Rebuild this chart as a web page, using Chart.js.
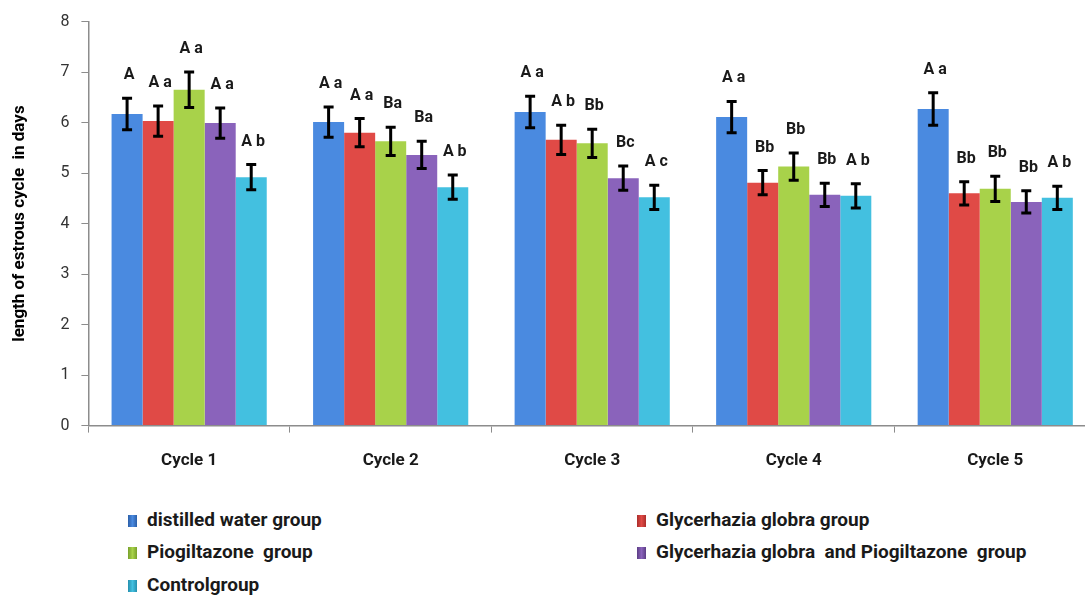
<!DOCTYPE html>
<html lang="en">
<head>
  <meta charset="UTF-8">
  <title>Length of estrous cycle</title>
  <script src="https://cdn.jsdelivr.net/npm/chart.js"></script>
  <style>
    html, body { margin: 0; padding: 0; background: #fff; overflow: hidden; }
    #wrap { position: relative; width: 1085px; height: 596px; overflow: hidden; }
    #chart { position: absolute; left: 0; top: 0; }
    .leg { position: absolute; font-family: Roboto, sans-serif;
           font-weight: bold; font-size: 19px; color: #1a1a1a; line-height: 22px; white-space: pre; }
    .leg span.sw { display: inline-block; width: 9px; height: 12px; margin-right: 10px; vertical-align: -1px; }
  </style>
</head>
<body>
  <div id="wrap">
    <canvas id="chart" width="1100" height="500"></canvas>
    <div id="legend"></div>
  </div>
  <script>
    const categories = ['Cycle 1', 'Cycle 2', 'Cycle 3', 'Cycle 4', 'Cycle 5'];
    const groupNames = ['distilled water group', 'Glycerhazia globra group', 'Piogiltazone  group',
                        'Glycerhazia globra  and Piogiltazone  group', 'Control group'];

    const distilledWater = [6.17, 6.01, 6.21, 6.11, 6.27];
    const glycerhazia    = [6.03, 5.80, 5.66, 4.81, 4.60];
    const piogiltazone   = [6.65, 5.63, 5.59, 5.13, 4.69];
    const combined       = [5.99, 5.36, 4.90, 4.57, 4.43];
    const control        = [4.92, 4.72, 4.52, 4.55, 4.51];

    const errDistilled   = [0.31, 0.30, 0.31, 0.31, 0.32];
    const errGlycerhazia = [0.30, 0.28, 0.29, 0.24, 0.23];
    const errPiogl       = [0.35, 0.28, 0.28, 0.27, 0.25];
    const errCombined    = [0.30, 0.27, 0.24, 0.23, 0.22];
    const errControl     = [0.25, 0.24, 0.24, 0.24, 0.23];

    const lblDistilled   = ['A', 'A a', 'A a', 'A a', 'A a'];
    const lblGlycerhazia = ['A a', 'A a', 'A b', 'Bb', 'Bb'];
    const lblPiogl       = ['A a', 'Ba', 'Bb', 'Bb', 'Bb'];
    const lblCombined    = ['A a', 'Ba', 'Bc', 'Bb', 'Bb'];
    const lblControl     = ['A b', 'A b', 'A c', 'A b', 'A b'];

    const yTicks = [0, 1, 2, 3, 4, 5, 6, 7, 8];

    // [edge, middle] colours for the shaded bars
    const palette = [
      ['#2c5fa8', '#4a8ae0'],
      ['#ab2e2b', '#e04a46'],
      ['#78a02b', '#a8d24a'],
      ['#5c3d85', '#8a63bb'],
      ['#2590ae', '#43c0e0']
    ];

    function shade(i) {
      return function (ctx) {
        const el = ctx.element;
        const c = ctx.chart.ctx;
        if (!el || el.width === undefined || !isFinite(el.x)) return palette[i][1];
        const x0 = el.x - el.width / 2, x1 = el.x + el.width / 2;
        const g = c.createLinearGradient(x0, 0, x1, 0);
        g.addColorStop(0, palette[i][0]);
        g.addColorStop(0.35, palette[i][1]);
        g.addColorStop(0.65, palette[i][1]);
        g.addColorStop(1, palette[i][0]);
        return g;
      };
    }

    const values = [distilledWater, glycerhazia, piogiltazone, combined, control];
    const errors = [errDistilled, errGlycerhazia, errPiogl, errCombined, errControl];
    const letters = [lblDistilled, lblGlycerhazia, lblPiogl, lblCombined, lblControl];

    const datasets = values.map((v, i) => ({
      label: groupNames[i],
      data: v,
      err: errors[i],
      letters: letters[i],
      backgroundColor: shade(i),
      borderColor: palette[i][0],
      borderWidth: 0,
      barPercentage: 1.0,
      categoryPercentage: 0.77
    }));

    // error bars + significance letters
    const errorBars = {
      id: 'errorBars',
      afterDatasetsDraw(chart) {
        const c = chart.ctx;
        const y = chart.scales.y;
        c.save();
        chart.data.datasets.forEach((ds, di) => {
          const meta = chart.getDatasetMeta(di);
          meta.data.forEach((bar, j) => {
            const v = ds.data[j], e = ds.err[j];
            const yt = y.getPixelForValue(v + e), yb = y.getPixelForValue(v - e);
            c.strokeStyle = '#000';
            c.lineWidth = 3;
            c.beginPath();
            c.moveTo(bar.x, yt); c.lineTo(bar.x, yb);
            c.moveTo(bar.x - 5, yt); c.lineTo(bar.x + 5, yt);
            c.moveTo(bar.x - 5, yb); c.lineTo(bar.x + 5, yb);
            c.stroke();
            c.fillStyle = '#1a1a1a';
            c.font = 'bold 16px Roboto, sans-serif';
            c.textAlign = 'center';
            c.textBaseline = 'middle';
            c.fillText(ds.letters[j], bar.x + 2, yt - 23);
          });
        });
        c.restore();
      }
    };

    new Chart(document.getElementById('chart'), {
      type: 'bar',
      data: { labels: categories, datasets: datasets },
      plugins: [errorBars],
      options: {
        responsive: false,
        animation: false,
        layout: { padding: { left: 10, top: 14, bottom: 11, right: 4 } },
        plugins: { legend: { display: false }, tooltip: { enabled: false } },
        scales: {
          x: {
            grid: { drawOnChartArea: false, tickLength: 7, color: '#8c8c8c' },
            border: { color: '#8c8c8c', width: 1.5 },
            ticks: { color: '#1a1a1a', padding: 18, font: { family: 'Roboto', size: 17, weight: 'bold' } }
          },
          y: {
            min: 0, max: 8,
            afterBuildTicks(scale) { scale.ticks = yTicks.map(v => ({ value: v })); },
            grid: { drawOnChartArea: false, tickLength: 7, color: '#8c8c8c' },
            border: { color: '#8c8c8c', width: 1.5 },
            ticks: { color: '#333', padding: 12, font: { family: 'Roboto', size: 16 } },
            title: {
              display: true,
              text: 'length of estrous cycle  in days',
              color: '#000',
              padding: { top: 0, bottom: 18 },
              font: { family: 'Roboto', size: 17, weight: 'bold' }
            }
          }
        }
      }
    });

    // legend in two columns under the chart
    const legPos = [[128, 509], [637, 509], [128, 541], [637, 541], [128, 574]];
    const legend = document.getElementById('legend');
    groupNames.forEach((name, i) => {
      const d = document.createElement('div');
      d.className = 'leg';
      d.style.left = legPos[i][0] + 'px';
      d.style.top = legPos[i][1] + 'px';
      const sw = document.createElement('span');
      sw.className = 'sw';
      sw.style.background = 'linear-gradient(90deg,' + palette[i][0] + ',' + palette[i][1] + ',' + palette[i][0] + ')';
      d.appendChild(sw);
      d.appendChild(document.createTextNode(name === 'Control group' ? 'Controlgroup' : name));
      legend.appendChild(d);
    });
  </script>
</body>
</html>
